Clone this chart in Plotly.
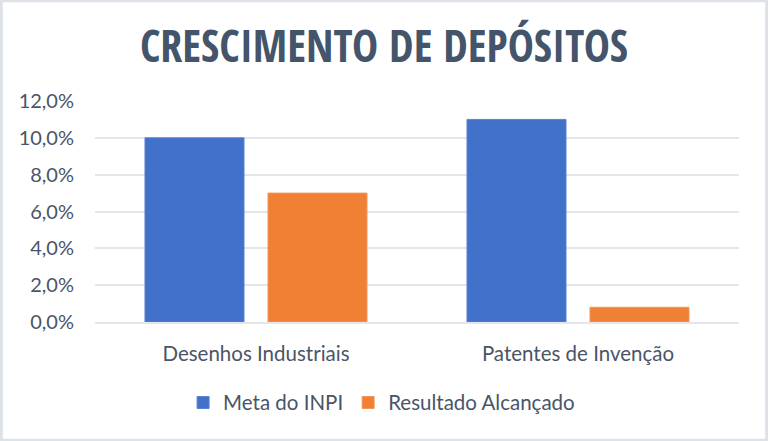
import plotly.graph_objects as go

categories = ["Desenhos Industriais", "Patentes de Invenção"]
meta_inpi = [0.10, 0.11]
resultado = [0.07, 0.008]
tick_vals = [0, 0.02, 0.04, 0.06, 0.08, 0.10, 0.12]
tick_text = ["0,0%", "2,0%", "4,0%", "6,0%", "8,0%", "10,0%", "12,0%"]

W, H = 768, 441
L, R, T, B = 95, 29, 101, 119
txt = "#44546A"
lbl = "#4A5568"

fig = go.Figure()
fig.add_trace(go.Bar(name="Meta do INPI", x=categories, y=meta_inpi,
                     marker=dict(color="#4171C9", line=dict(color="#5A82D0", width=1))))
fig.add_trace(go.Bar(name="Resultado Alcançado", x=categories, y=resultado,
                     marker=dict(color="#EF8034", line=dict(color="#F3965A", width=1))))

pw, ph = W - L - R, H - T - B
fig.add_shape(type="rect", xref="paper", yref="paper",
              x0=-L / pw + 0.002, x1=1 + R / pw - 0.002,
              y0=-B / ph + 0.003, y1=1 + T / ph - 0.003,
              line=dict(color="#DDE2E8", width=3), fillcolor="rgba(0,0,0,0)", layer="below")

fig.update_layout(
    width=W, height=H,
    margin=dict(l=L, r=R, t=T, b=B),
    paper_bgcolor="white", plot_bgcolor="white",
    barmode="group", bargap=0.236, bargroupgap=0.195,
    title=dict(text="<b>CRESCIMENTO DE DEPÓSITOS</b>", x=0.5, xanchor="center",
               y=1 - 47 / H, yanchor="middle",
               font=dict(family="Open Sans Condensed, Lato, sans-serif", size=44, color=txt)),
    font=dict(family="Lato, Open Sans, sans-serif", color=lbl, size=20),
    yaxis=dict(range=[0, 0.12], tickvals=tick_vals, ticktext=tick_text,
               showgrid=True, gridcolor="#E3E6EA", gridwidth=2, zeroline=False,
               ticks="", ticklabelstandoff=20, showline=False,
               tickfont=dict(size=20, color=lbl)),
    xaxis=dict(showline=True, linecolor="#E3E6EA", linewidth=2, ticks="",
               tickfont=dict(size=20.5, color=lbl), ticklabelstandoff=12),
    legend=dict(orientation="h", x=0.445, xanchor="center", y=-0.365, yanchor="middle",
                font=dict(size=20.5, color=lbl), itemwidth=30, traceorder="normal"),
    showlegend=True,
)

fig.write_html("out.html")
